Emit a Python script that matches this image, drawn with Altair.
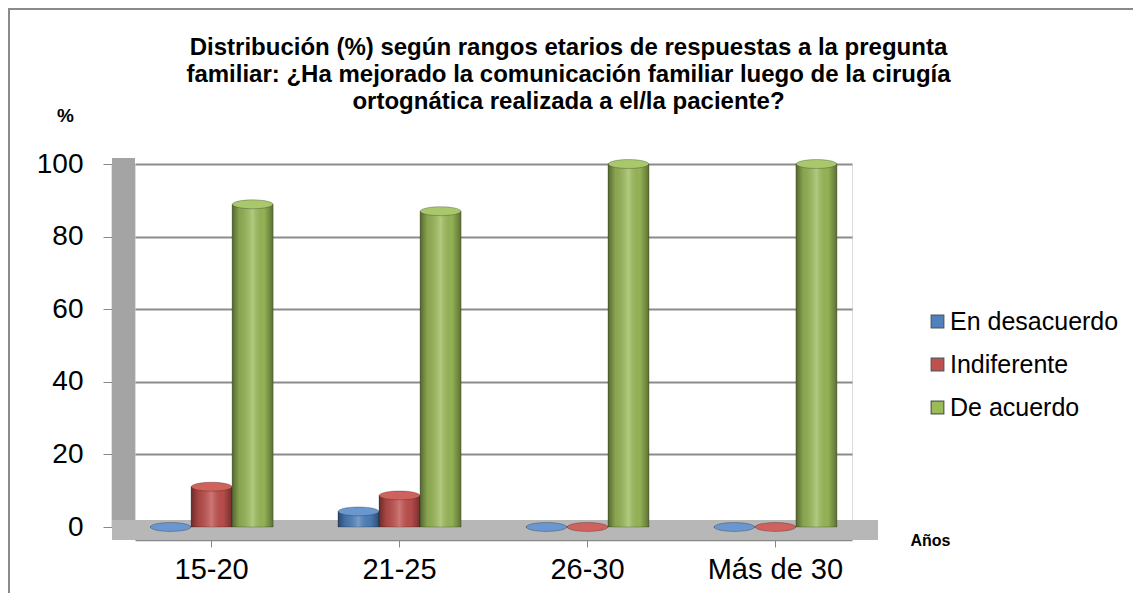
import altair as alt
import pandas as pd

# ---- data ----
categories = ["15-20", "21-25", "26-30", "Más de 30"]
series = ["En desacuerdo", "Indiferente", "De acuerdo"]
en_desacuerdo = [0.0, 4.3, 0.0, 0.0]
indiferente = [11.1, 8.7, 0.0, 0.0]
de_acuerdo = [88.9, 87.0, 100.0, 100.0]
y_ticks = [0, 20, 40, 60, 80, 100]

colors = ["#4f81bd", "#c0504d", "#9bbb59"]
tops = ["#6a97cf", "#d0625e", "#a9c86c"]

rows = []
for s, vals in zip(series, [en_desacuerdo, indiferente, de_acuerdo]):
    for c, v in zip(categories, vals):
        rows.append({"cat": c, "serie": s, "valor": v})
df = pd.DataFrame(rows)

W, H = 717, 363
FONT = "Liberation Sans"

x_enc = alt.X("cat:N", sort=categories,
              scale=alt.Scale(paddingInner=0.345, paddingOuter=0.08),
              axis=alt.Axis(title="Años", titleX=795, titleY=0, titleAlign="center",
                            titleBaseline="middle", titleFontSize=16, titleFontWeight="bold",
                            titleColor="#000", labelFontSize=29, labelColor="#000",
                            labelAngle=0, labelPadding=8, tickSize=7, tickColor="#888",
                            domainColor="#888", domainWidth=1.5, offset=13,
                            labelFont=FONT, titleFont=FONT))
xo_enc = alt.XOffset("serie:N", sort=series, scale=alt.Scale(paddingInner=0, paddingOuter=0))
y_enc = alt.Y("valor:Q", scale=alt.Scale(domain=[0, 100], nice=False),
              axis=alt.Axis(values=y_ticks, title="%", titleAngle=0, titleX=-47, titleY=-49,
                            titleAlign="center", titleBaseline="middle", titleFontSize=19,
                            titleFontWeight="bold", titleColor="#000", labelFontSize=28,
                            labelColor="#000", labelPadding=20, tickSize=9, tickColor="#888",
                            domainColor="#8c8c8c", domainWidth=1.5, offset=23,
                            gridColor="#8c8c8c", gridWidth=2, labelFont=FONT, titleFont=FONT))

deco = pd.DataFrame({"k": [0]})

left_wall = alt.Chart(deco).mark_rect(color="#a4a4a4").encode(
    x=alt.value(-23), x2=alt.value(0), y=alt.value(-6), y2=alt.value(H + 10))
floor = alt.Chart(deco).mark_rect(color="#b7b7b7").encode(
    x=alt.value(-23), x2=alt.value(W + 26), y=alt.value(H - 7), y2=alt.value(H + 13))
border_top = alt.Chart(deco).mark_rule(color="#8a8a8a", strokeWidth=2).encode(
    x=alt.value(-127), x2=alt.value(W + 281), y=alt.value(-155))
border_left = alt.Chart(deco).mark_rule(color="#8a8a8a", strokeWidth=2).encode(
    x=alt.value(-126), y=alt.value(-155), y2=alt.value(H + 66))

bars = alt.Chart(df).mark_bar(strokeWidth=0.8).encode(
    x=x_enc, xOffset=xo_enc, y=y_enc,
    color=alt.Color("serie:N", sort=series,
                    scale=alt.Scale(domain=series, range=colors),
                    legend=alt.Legend(title=None, orient="none", legendX=790, legendY=145,
                                      labelFontSize=25, labelFont=FONT, labelColor="#000",
                                      labelLimit=400,
                                      symbolType="square", symbolSize=160,
                                      symbolStrokeWidth=1.2, symbolStrokeColor="#555",
                                      rowPadding=17, labelOffset=0)),
    stroke=alt.value("rgba(0,0,0,0.3)"))

shade = alt.Chart(df).mark_bar(
    fill=alt.Gradient(gradient="linear", x1=0, x2=1, y1=0, y2=0, stops=[
        alt.GradientStop(offset=0, color="rgba(0,0,0,0.45)"),
        alt.GradientStop(offset=0.18, color="rgba(0,0,0,0.12)"),
        alt.GradientStop(offset=0.5, color="rgba(255,255,255,0.22)"),
        alt.GradientStop(offset=0.78, color="rgba(0,0,0,0.05)"),
        alt.GradientStop(offset=1, color="rgba(0,0,0,0.4)"),
    ])).encode(x=x_enc, xOffset=xo_enc, y=y_enc)

ellipse = "M -1 0 A 1 0.22 0 1 0 1 0 A 1 0.22 0 1 0 -1 0 Z"
caps = alt.Chart(df).mark_point(shape=ellipse, filled=True, size=1640, opacity=1,
                                strokeWidth=0.8, stroke="rgba(0,0,0,0.3)").encode(
    x=x_enc, xOffset=xo_enc, y=y_enc,
    fill=alt.Fill("serie:N", sort=series, scale=alt.Scale(domain=series, range=tops),
                  legend=None))

chart = alt.layer(border_top, border_left, left_wall, floor, bars, shade, caps).properties(
    width=W, height=H,
    autosize=alt.AutoSizeParams(type="none"),
    padding={"left": 127, "top": 156, "right": 281, "bottom": 66},
    title=alt.TitleParams(
        text=["Distribución (%) según rangos etarios de respuestas a la pregunta",
              "familiar: ¿Ha mejorado la comunicación familiar luego de la cirugía",
              "ortognática realizada a el/la paciente?"],
        fontSize=24, fontWeight="bold", font=FONT, color="#000", anchor="middle",
        frame="group", dx=75, offset=-106, lineHeight=27),
).configure_view(fill="#efefef", stroke=None).configure(background="white")

chart.save("out.html", embed_options={"renderer": "svg", "actions": False})
